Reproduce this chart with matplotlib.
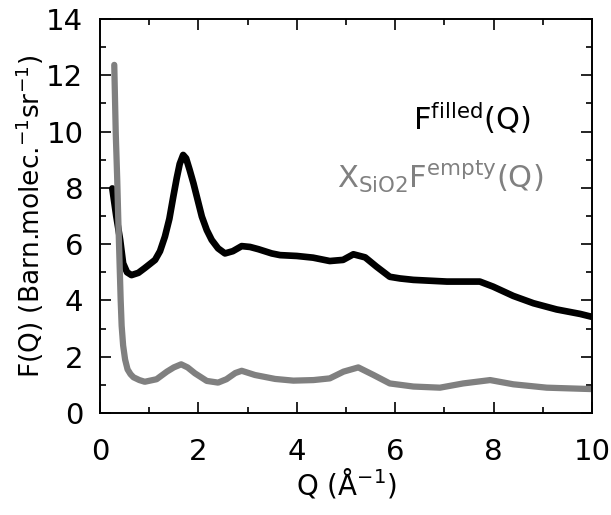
import matplotlib
matplotlib.use("Agg")
import matplotlib.pyplot as plt
from matplotlib.ticker import MultipleLocator

# Filled F(Q) curve (black)
q_filled = [0.25, 0.33, 0.41, 0.47, 0.55, 0.64, 0.78, 0.91, 1.12, 1.22, 1.32, 1.41,
            1.49, 1.56, 1.62, 1.69, 1.75, 1.82, 1.90, 2.07, 2.17, 2.27, 2.40, 2.54,
            2.70, 2.88, 3.05, 3.22, 3.49, 3.66, 4.00, 4.33, 4.67, 4.94, 5.15, 5.39,
            5.62, 5.89, 6.10, 6.37, 7.05, 7.72, 7.99, 8.40, 8.81, 9.28, 9.76, 9.99]
f_filled = [7.98, 7.00, 6.15, 5.32, 5.00, 4.90, 4.98, 5.15, 5.44, 5.75, 6.27, 6.90,
            7.69, 8.35, 8.85, 9.17, 9.05, 8.65, 8.16, 6.98, 6.50, 6.15, 5.85, 5.67,
            5.75, 5.93, 5.90, 5.82, 5.67, 5.61, 5.58, 5.52, 5.40, 5.44, 5.64, 5.53,
            5.20, 4.84, 4.78, 4.73, 4.67, 4.67, 4.49, 4.16, 3.90, 3.68, 3.52, 3.42]

# X_SiO2 * F_empty(Q) curve (grey)
q_empty = [0.29, 0.32, 0.35, 0.37, 0.40, 0.42, 0.44, 0.47, 0.51, 0.56, 0.62, 0.68,
           0.80, 0.91, 1.15, 1.36, 1.50, 1.65, 1.78, 1.93, 2.17, 2.40, 2.57, 2.75,
           2.88, 3.15, 3.56, 3.93, 4.34, 4.67, 4.95, 5.25, 5.56, 5.89, 6.37, 6.91,
           7.38, 7.93, 8.40, 9.08, 9.99]
f_empty = [12.37, 9.95, 8.30, 6.98, 5.20, 4.02, 3.10, 2.40, 1.90, 1.55, 1.38, 1.27,
           1.17, 1.11, 1.20, 1.47, 1.62, 1.73, 1.62, 1.41, 1.14, 1.08, 1.20, 1.42,
           1.50, 1.35, 1.21, 1.15, 1.17, 1.23, 1.47, 1.62, 1.35, 1.05, 0.94, 0.90,
           1.05, 1.17, 1.02, 0.90, 0.85]

x_ticks = [0, 2, 4, 6, 8, 10]
y_ticks = [0, 2, 4, 6, 8, 10, 12, 14]

plt.rcParams['font.family'] = ['DejaVu Sans']
plt.rcParams['mathtext.fontset'] = 'dejavusans'

fig = plt.figure(figsize=(6.11, 5.15), dpi=100)
ax = fig.add_axes([100/611, 102/515, 492/611, 394/515])

ax.plot(q_filled, f_filled, color='black', lw=4.8, solid_capstyle='round',
        solid_joinstyle='round')
ax.plot(q_empty, f_empty, color='#808080', lw=4.5, solid_capstyle='round',
        solid_joinstyle='round')

ax.set_xlim(0, 10)
ax.set_ylim(0, 14)
ax.set_xticks(x_ticks)
ax.set_yticks(y_ticks)
ax.xaxis.set_minor_locator(MultipleLocator(1))
ax.yaxis.set_minor_locator(MultipleLocator(1))
ax.tick_params(which='both', direction='in', top=True, right=True,
               labelsize=21, width=1.2)
ax.tick_params(axis='x', which='major', pad=18)
ax.tick_params(axis='y', which='major', pad=12)
ax.tick_params(which='major', length=8)
ax.tick_params(which='minor', length=4.5)
for s in ax.spines.values():
    s.set_linewidth(1.4)

ax.set_xlabel(r'Q ($\mathrm{\AA}^{-1}$)', fontsize=20, labelpad=0)
ax.set_ylabel(r'F(Q) (Barn.molec.$^{-1}$sr$^{-1}$)', fontsize=19, labelpad=0)

ax.text(0.636, 0.718, r'F$^{\mathrm{filled}}$(Q)', transform=ax.transAxes,
        fontsize=22, color='black', ha='left', va='baseline')
ax.text(0.482, 0.571, r'X$_{\mathrm{SiO2}}$F$^{\mathrm{empty}}$(Q)', transform=ax.transAxes,
        fontsize=22, color='#808080', ha='left', va='baseline')

fig.savefig('out.png', dpi=100)
